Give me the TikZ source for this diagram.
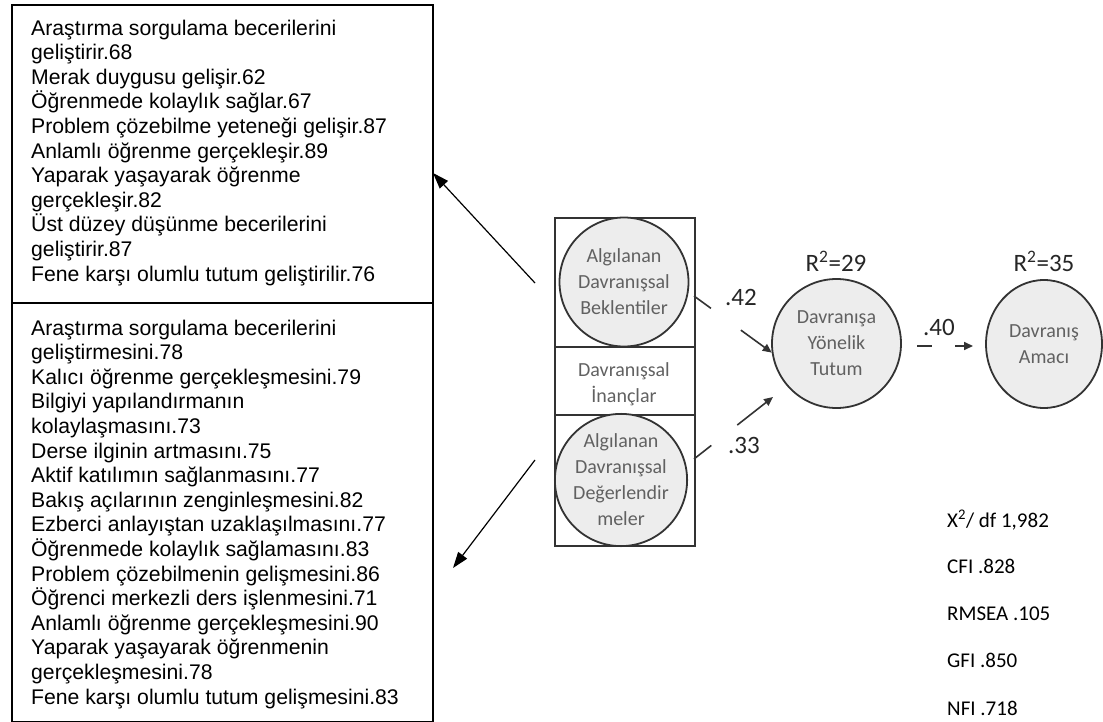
\documentclass[tikz,border=0pt]{standalone}
\usepackage{fontspec}
\setmainfont{Liberation Sans}
\newfontfamily\calfont{Carlito}
\usetikzlibrary{arrows.meta,shapes.geometric}

\begin{document}
\begin{tikzpicture}[x=1pt,y=-1pt,
  listbox/.style={draw=black,line width=1.8pt,anchor=north west,inner sep=0pt},
  listtext/.style={anchor=north west,inner sep=0pt,align=left,
    font=\fontsize{21.2}{24.6}\selectfont},
  latent/.style={circle,draw=black!80,line width=1.8pt,fill=black!7,inner sep=0pt,
    minimum size=129pt,align=center,text=black!62,
    font=\calfont\fontsize{20}{26}\selectfont},
  plain/.style={inner sep=0pt,align=center,text=black!62,
    font=\calfont\fontsize{20}{26}\selectfont},
  relpath/.style={draw=black!80,line width=1.6pt,-{Triangle[length=9pt,width=8pt]}},
  coef/.style={inner sep=0pt,text=black!85,font=\calfont\fontsize{25}{28}\selectfont},
  fitstat/.style={anchor=base west,inner sep=0pt,font=\calfont\fontsize{21}{24}\selectfont},
  pointer/.style={draw=black,line width=1.2pt,-{Triangle[length=16pt,width=11pt]}}
]
\useasboundingbox (0,0) rectangle (1103,722);

% item lists
\node[listbox,minimum width=421pt,minimum height=298pt] (topbox) at (11,4) {};
\node[listbox,minimum width=421pt,minimum height=419pt] (botbox) at (11,302) {};

\node[listtext] (toplist) at (31,19.5) {%
Araştırma sorgulama becerilerini\\
geliştirir.68\\
Merak duygusu gelişir.62\\
Öğrenmede kolaylık sağlar.67\\
Problem çözebilme yeteneği gelişir.87\\
Anlamlı öğrenme gerçekleşir.89\\
Yaparak yaşayarak öğrenme\\
gerçekleşir.82\\
Üst düzey düşünme becerilerini\\
geliştirir.87\\
Fene karşı olumlu tutum geliştirilir.76};

\node[listtext] (botlist) at (31,319.5) {%
Araştırma sorgulama becerilerini\\
geliştirmesini.78\\
Kalıcı öğrenme gerçekleşmesini.79\\
Bilgiyi yapılandırmanın\\
kolaylaşmasını.73\\
Derse ilginin artmasını.75\\
Aktif katılımın sağlanmasını.77\\
Bakış açılarının zenginleşmesini.82\\
Ezberci anlayıştan uzaklaşılmasını.77\\
Öğrenmede kolaylık sağlamasını.83\\
Problem çözebilmenin gelişmesini.86\\
Öğrenci merkezli ders işlenmesini.71\\
Anlamlı öğrenme gerçekleşmesini.90\\
Yaparak yaşayarak öğrenmenin\\
gerçekleşmesini.78\\
Fene karşı olumlu tutum gelişmesini.83};

% belief block
\node[draw=black!80,line width=1.8pt,anchor=north west,inner sep=0pt,
  minimum width=140pt,minimum height=328pt] (beliefs) at (554,217) {};
\draw[draw=black!80,line width=1.6pt] (beliefs.west |- 0,347) -- (beliefs.east |- 0,347);
\draw[draw=black!80,line width=1.6pt] (beliefs.west |- 0,415) -- (beliefs.east |- 0,415);

\node[latent] (bek) at (624,282) {Algılanan\\Davranışsal\\Beklentiler};
\node[plain] (inanc) at (624,384) {Davranışsal\\İnançlar};
\node[latent,minimum size=130pt] (deg) at (621,480) {Algılanan\\Davranışsal\\Değerlendir\\meler};

\node[latent] (tutum) at (836.5,343.5) {Davranışa\\Yönelik\\Tutum};
\node[latent,ellipse,minimum width=116pt,minimum height=128pt] (amac) at (1044,344) {Davranış\\Amacı};

\node[coef,anchor=base] (r29) at (836,272) {R\textsuperscript{2}=29};
\node[coef,anchor=base] (r35) at (1044,272) {R\textsuperscript{2}=35};

% structural paths
\coordinate (s1) at (694,296);
\coordinate (s2) at (694,459);
\coordinate (e2) at (773,397);
\coordinate (s3) at (917,346);
\coordinate (e3) at (973,346);
\draw[relpath,dash pattern=on 21pt off 37pt on 40pt] (s1) -- (tutum.188);
\draw[relpath,dash pattern=on 22pt off 33pt on 40pt] (s2) -- (e2);
\draw[relpath,dash pattern=on 15pt off 23pt on 20pt] (s3) -- (e3);
\node[coef] (c42) at (741,297) {.42};
\node[coef] (c33) at (744,445) {.33};
\node[coef] (c40) at (939,327) {.40};

% pointers to the item lists
\coordinate (p1) at (535,283);
\coordinate (q1) at (433,173);
\coordinate (p2) at (535,460);
\coordinate (q2) at (453,568);
\draw[pointer] (p1) -- (q1);
\draw[pointer] (p2) -- (q2);

% fit indices
\node[fitstat] (chi) at (947,527) {X\textsuperscript{2}/ df 1,982};
\node[fitstat] (cfi) at (947,573) {CFI .828};
\node[fitstat] (rmsea) at (947,620) {RMSEA .105};
\node[fitstat] (gfi) at (947,667) {GFI .850};
\node[fitstat] (nfi) at (947,715) {NFI .718};
\end{tikzpicture}
\end{document}
